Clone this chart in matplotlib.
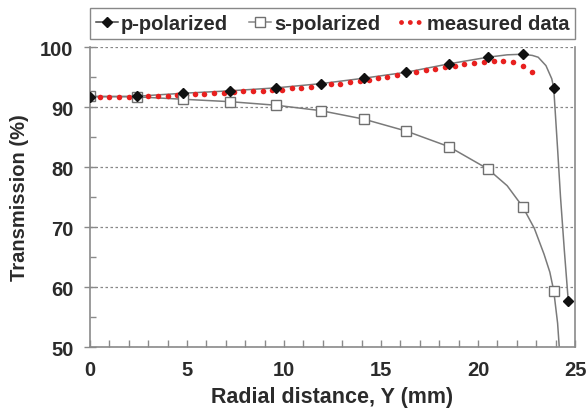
import matplotlib.pyplot as plt
from matplotlib.ticker import MultipleLocator

plt.rcParams['font.family'] = ['Liberation Sans', 'DejaVu Sans']
plt.rcParams['font.weight'] = 'bold'

# marker positions (mm) and transmission (%)
marker_x = [0.0, 2.4, 4.8, 7.2, 9.6, 11.9, 14.1, 16.3, 18.5, 20.5, 22.3, 23.9]
p_marker_x = marker_x + [24.65]
p_marker_y = [91.7, 91.8, 92.3, 92.7, 93.2, 93.9, 94.8, 95.8, 97.2, 98.3, 98.8, 93.2, 57.7]
s_marker_y = [91.8, 91.7, 91.3, 90.9, 90.3, 89.4, 88.0, 86.0, 83.4, 79.7, 73.4, 59.4]

# calculated curves
p_curve_x = [0.0, 2.4, 4.8, 7.2, 9.6, 11.9, 14.1, 16.3, 18.5, 20.5, 21.5, 22.3, 22.8, 23.1,
             23.5, 23.8, 23.9, 24.1, 24.25, 24.45, 24.65]
p_curve_y = [91.7, 91.8, 92.3, 92.7, 93.2, 93.9, 94.8, 95.8, 97.2, 98.3, 98.7, 98.8, 98.6, 98.3,
             96.9, 94.7, 93.2, 83.0, 75.0, 66.0, 57.7]
s_curve_x = [0.0, 2.4, 4.8, 7.2, 9.6, 11.9, 14.1, 16.3, 18.5, 20.5, 21.5, 22.3, 22.9, 23.4,
             23.7, 23.9, 24.1, 24.25]
s_curve_y = [91.8, 91.7, 91.3, 90.9, 90.3, 89.4, 88.0, 86.0, 83.4, 79.7, 76.9, 73.4, 69.8, 65.5,
             62.5, 59.4, 54.0, 47.0]

# measured data
meas_x = [0.0, 0.5, 1.0, 1.5, 2.0, 2.5, 3.0, 3.5, 4.0, 4.5, 4.95, 5.4, 5.9, 6.4, 6.9, 7.4,
          7.9, 8.4, 8.9, 9.4, 9.9, 10.4, 10.9, 11.4, 11.9, 12.4, 12.9, 13.4, 13.9, 14.4,
          14.85, 15.3, 15.8, 16.3, 16.8, 17.3, 17.8, 18.3, 18.8, 19.3, 19.8, 20.3, 20.8,
          21.3, 21.8, 22.3, 22.8]
meas_y = [91.6, 91.6, 91.6, 91.6, 91.7, 91.7, 91.8, 91.8, 91.9, 92.0, 92.0, 92.1, 92.2, 92.3,
          92.4, 92.5, 92.6, 92.6, 92.7, 92.8, 92.9, 93.1, 93.2, 93.4, 93.6, 93.8, 93.9, 94.1,
          94.3, 94.5, 94.8, 95.0, 95.3, 95.6, 95.9, 96.2, 96.4, 96.7, 96.9, 97.1, 97.3, 97.5,
          97.6, 97.7, 97.5, 96.9, 95.9]

text_col = '#2b2b2b'
line_col = '#7a7a7a'

fig = plt.figure(figsize=(5.88, 4.14), dpi=100)
ax = fig.add_axes([0.153, 0.159, 0.825, 0.725])

ax.plot(p_curve_x, p_curve_y, color=line_col, lw=1.1, zorder=2)
ax.plot(s_curve_x, s_curve_y, color=line_col, lw=1.1, zorder=2)
ax.plot(meas_x, meas_y, ls='none', marker='o', ms=4, color='#e8201f', mec='none', zorder=3)
ax.plot(marker_x, s_marker_y, ls='none', marker='s', ms=7, mfc='white', mec='#707070', mew=1, zorder=4)
ax.plot(p_marker_x, p_marker_y, ls='none', marker='D', ms=5.5, color='#111111', zorder=5)

# legend handles
h_p, = ax.plot([], [], color='#444444', lw=1.1, marker='D', ms=5, mfc='#111111', mec='#111111')
h_s, = ax.plot([], [], color='#888888', lw=1.1, marker='s', ms=7, mfc='white', mec='#707070')
h_m, = ax.plot([], [], lw=3.5, color='#e8201f', dashes=(0.01, 1.8), dash_capstyle='round')
leg = ax.legend([h_p, h_s, h_m], ['p-polarized', 's-polarized', 'measured data'],
                loc='lower left', bbox_to_anchor=(0, 1.027, 1, 0.1), mode='expand', ncol=3,
                borderaxespad=0, handlelength=1.1, handletextpad=0.15, columnspacing=0.8,
                fancybox=False, framealpha=1, edgecolor='#888888',
                prop={'size': 14.5, 'weight': 'bold'}, borderpad=0.3)
for t in leg.get_texts():
    t.set_color(text_col)

ax.set_xlim(0, 25)
ax.set_ylim(50, 100)
ax.xaxis.set_major_locator(MultipleLocator(5))
ax.xaxis.set_minor_locator(MultipleLocator(1))
ax.yaxis.set_major_locator(MultipleLocator(10))
ax.yaxis.set_minor_locator(MultipleLocator(5))

ax.grid(axis='y', which='major', color='#888888', ls=(0, (2, 2)), lw=0.9)
ax.spines['top'].set_visible(False)
for s in ['left', 'bottom', 'right']:
    ax.spines[s].set_color('#8a8a8a')
    ax.spines[s].set_linewidth(1.2)
ax.tick_params(axis='x', which='both', direction='in', color='#8a8a8a', length=5, width=1,
               labelsize=14.5, labelcolor=text_col, pad=9)
ax.tick_params(axis='y', which='major', direction='inout', color='#8a8a8a', length=8, width=1,
               labelsize=14.5, labelcolor=text_col, pad=8)
ax.tick_params(axis='y', which='minor', direction='in', color='#8a8a8a', length=4, width=1)
ax.tick_params(which='both', right=False, top=False)

ax.set_xlabel('Radial distance, Y (mm)', fontsize=15.5, fontweight='bold', color=text_col, labelpad=5)
ax.set_ylabel('Transmission (%)', fontsize=14.5, fontweight='bold', color=text_col, labelpad=8)

fig.savefig('out.png', dpi=100)
